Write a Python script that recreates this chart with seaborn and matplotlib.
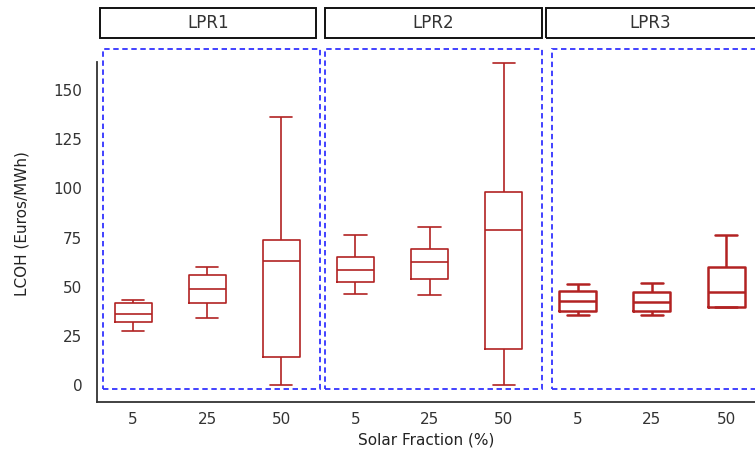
import numpy as np
import pandas as pd
import matplotlib
matplotlib.use("Agg")
import matplotlib.pyplot as plt
from matplotlib.patches import Rectangle
import seaborn as sns

# groups and solar fractions
groups = ["LPR1", "LPR2", "LPR3"]
fractions = ["5", "25", "50"]

# five-number summaries, order: LPR1(5,25,50), LPR2(...), LPR3(...)
whisker_low = [27.5, 33.9, 0.0, 46.4, 45.8, 0.0, 35.4, 35.4, 39.8]
q1 = [32.2, 41.7, 14.2, 52.5, 54.0, 18.1, 37.6, 37.6, 39.8]
median = [36.1, 48.8, 63.0, 58.5, 62.4, 78.8, 42.7, 42.4, 47.3]
q3 = [41.7, 55.9, 73.9, 65.2, 69.3, 98.3, 47.9, 47.1, 59.8]
whisker_high = [43.2, 59.8, 136.2, 76.3, 80.2, 163.9, 51.2, 51.9, 76.3]

rows = []
order = []
for gi, g in enumerate(groups):
    for fi, f in enumerate(fractions):
        k = gi * 3 + fi
        key = f"{g} {f}"
        order.append(key)
        for v in (whisker_low[k], q1[k], median[k], q3[k], whisker_high[k]):
            rows.append({"group": g, "case": key, "LCOH": v})
df = pd.DataFrame(rows)

sns.set_style("white")
plt.rcParams["font.family"] = ["DejaVu Sans"]

fig = plt.figure(figsize=(7.55, 4.54), dpi=100)
ax = fig.add_axes([0.1285, 0.1145, 0.8715, 0.749])

line_widths = {"LPR1": 1.2, "LPR2": 1.2, "LPR3": 1.8}
for g in groups:
    sns.boxplot(data=df[df["group"] == g], x="case", y="LCOH", order=order,
                fill=False, color="#b22222", width=0.5, whis=(0, 100),
                linewidth=line_widths[g], capwidths=0.3, ax=ax)

ax.set_xlim(-0.486, 8.39)
ax.set_ylim(-8.6, 164.2)
ax.set_yticks([0, 25, 50, 75, 100, 125, 150])
ax.set_xticks(range(9), labels=fractions * 3)
ax.set_xlabel("Solar Fraction (%)", fontsize=11, color="#222222")
ax.set_ylabel("LCOH (Euros/MWh)", fontsize=11, color="#222222")
ax.yaxis.set_label_coords(-0.102, 0.524)
ax.tick_params(axis="both", labelsize=11, colors="#333333", direction="out")
ax.tick_params(axis="y", length=7, width=1.2)
ax.tick_params(axis="x", length=4, width=1.2)
sns.despine(ax=ax)
for s in ["left", "bottom"]:
    ax.spines[s].set_linewidth(1.3)
    ax.spines[s].set_color("#333333")

# dashed group frames and header boxes
frames = [(-0.405, 2.52), (2.59, 5.51), (5.65, 8.6)]
headers = [(-0.445, 2.47), (2.59, 5.51), (5.57, 8.6)]
for g, (x0, x1), (h0, h1) in zip(groups, frames, headers):
    ax.add_patch(Rectangle((x0, -2.0), x1 - x0, 172.8, fill=False,
                           edgecolor="#3333ff", linestyle=(0, (3, 2)),
                           linewidth=1.3, clip_on=False))
    ax.add_patch(Rectangle((h0, 176.4), h1 - h0, 15.3, fill=False,
                           edgecolor="#111111", linewidth=1.4, clip_on=False))
    ax.text((h0 + min(h1, 8.39)) / 2, 184.0, g, ha="center", va="center",
            fontsize=12, color="#333333")

fig.savefig("out.png", dpi=100)
